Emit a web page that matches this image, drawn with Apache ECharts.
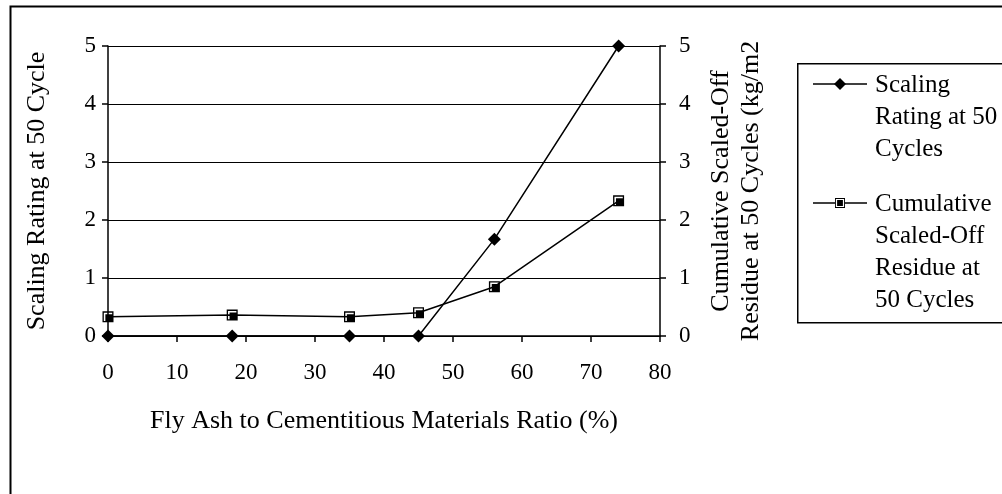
<!DOCTYPE html>
<html>
<head>
<meta charset="utf-8">
<script src="https://cdn.jsdelivr.net/npm/echarts@6/dist/echarts.min.js"></script>
<style>
  html, body { margin: 0; padding: 0; background: #fff; }
  #chart { width: 1002px; height: 494px; }
</style>
</head>
<body>
<div id="chart"></div>
<script>
// Fly ash ratio (%) of each mix
const flyAshRatio = [0, 18, 35, 45, 56, 74];
// Visual scaling rating after 50 freeze-thaw cycles
const scalingRating = [0, 0, 0, 0, 1.67, 5];
// Cumulative scaled-off residue after 50 cycles (kg/m2)
const residue = [0.33, 0.36, 0.33, 0.40, 0.85, 2.33];

const xTicks = { min: 0, max: 80, interval: 10 };
const yTicks = { min: 0, max: 5, interval: 1 };

const seriesNames = [
  'Scaling Rating at 50 Cycles',
  'Cumulative Scaled-Off Residue at 50 Cycles'
];

const FONT = '"Liberation Serif", "DejaVu Serif", serif';
const TICK_SIZE = 23;
const TITLE_SIZE = 26;
const LEGEND_SIZE = 25;

// square marker: black square with a white inner ring
const squareSymbol = 'path://M0,0H10V10H0Z M1.2,1.2V8.8H8.8V1.2Z M2.6,2.6H8.8V8.8H2.6Z';

const chart = echarts.init(document.getElementById('chart'));

const pairs = (xs, ys) => xs.map((x, i) => [x, ys[i]]);

const tickText = { fontFamily: FONT, fontSize: TICK_SIZE, color: '#000' };
const titleText = { fontFamily: FONT, fontSize: TITLE_SIZE, color: '#000' };

chart.setOption({
  animation: false,
  backgroundColor: '#fff',
  grid: { left: 108, right: 342, top: 46, bottom: 158 },
  xAxis: {
    type: 'value',
    min: xTicks.min, max: xTicks.max, interval: xTicks.interval,
    name: 'Fly Ash to Cementitious Materials Ratio (%)',
    nameLocation: 'middle',
    nameGap: 72,
    nameTextStyle: titleText,
    axisLine: { lineStyle: { color: '#000', width: 1.5 } },
    axisTick: { show: true, length: 6, lineStyle: { color: '#000', width: 1.5 } },
    axisLabel: Object.assign({ margin: 25 }, tickText),
    splitLine: { show: false }
  },
  yAxis: [
    {
      type: 'value',
      position: 'left',
      min: yTicks.min, max: yTicks.max, interval: yTicks.interval,
      name: 'Scaling Rating at 50 Cycle',
      nameLocation: 'middle',
      nameRotate: 90,
      nameGap: 58,
      nameTextStyle: titleText,
      axisLine: { show: true, lineStyle: { color: '#000', width: 1.5 } },
      axisTick: { show: true, length: 6, lineStyle: { color: '#000', width: 1.5 } },
      axisLabel: Object.assign({ margin: 12 }, tickText),
      splitLine: { show: true, lineStyle: { color: '#000', width: 1 } }
    },
    {
      type: 'value',
      position: 'right',
      min: yTicks.min, max: yTicks.max, interval: yTicks.interval,
      name: 'Cumulative Scaled-Off\nResidue at 50 Cycles (kg/m2',
      nameLocation: 'middle',
      nameRotate: 90,
      nameGap: 46,
      nameTextStyle: Object.assign({ lineHeight: 30 }, titleText),
      axisLine: { show: true, lineStyle: { color: '#000', width: 1.5 } },
      axisTick: { show: true, length: 6, lineStyle: { color: '#000', width: 1.5 } },
      axisLabel: Object.assign({ margin: 19 }, tickText),
      splitLine: { show: false }
    }
  ],
  series: [
    {
      name: seriesNames[0],
      type: 'line',
      yAxisIndex: 0,
      data: pairs(flyAshRatio, scalingRating),
      symbol: 'diamond',
      symbolSize: 13,
      itemStyle: { color: '#000' },
      lineStyle: { color: '#000', width: 1.5 },
      z: 3
    },
    {
      name: seriesNames[1],
      type: 'line',
      yAxisIndex: 1,
      data: pairs(flyAshRatio, residue),
      symbol: squareSymbol,
      symbolSize: 11,
      itemStyle: { color: '#000' },
      lineStyle: { color: '#000', width: 1.5 },
      z: 3
    }
  ],
  graphic: [
    // outer chart frame
    {
      type: 'rect', left: 8, top: 4, z: 0,
      shape: { width: 1100, height: 600 },
      style: { fill: null, stroke: '#000', lineWidth: 2 }
    },
    // legend box
    {
      type: 'rect', left: 797, top: 63, z: 1,
      shape: { width: 300, height: 259 },
      style: { fill: '#fff', stroke: '#000', lineWidth: 1.5 }
    },
    // legend entry 1
    { type: 'line', z: 2, shape: { x1: 813, y1: 84, x2: 867, y2: 84 },
      style: { stroke: '#000', lineWidth: 1.5 } },
    { type: 'polygon', z: 3,
      shape: { points: [[840, 78], [846, 84], [840, 90], [834, 84]] },
      style: { fill: '#000' } },
    { type: 'text', z: 3, left: 875, top: 69,
      style: { text: 'Scaling\nRating at 50\nCycles', font: LEGEND_SIZE + 'px ' + FONT,
               lineHeight: 32, fill: '#000' } },
    // legend entry 2
    { type: 'line', z: 2, shape: { x1: 813, y1: 203, x2: 867, y2: 203 },
      style: { stroke: '#000', lineWidth: 1.5 } },
    { type: 'rect', z: 3, shape: { x: 835, y: 198, width: 10, height: 10 },
      style: { fill: '#000' } },
    { type: 'rect', z: 4, shape: { x: 836.5, y: 199.5, width: 7, height: 7 },
      style: { fill: null, stroke: '#fff', lineWidth: 1.2 } },
    { type: 'text', z: 3, left: 875, top: 188,
      style: { text: 'Cumulative\nScaled-Off\nResidue at\n50 Cycles', font: LEGEND_SIZE + 'px ' + FONT,
               lineHeight: 32, fill: '#000' } }
  ]
});
</script>
</body>
</html>
